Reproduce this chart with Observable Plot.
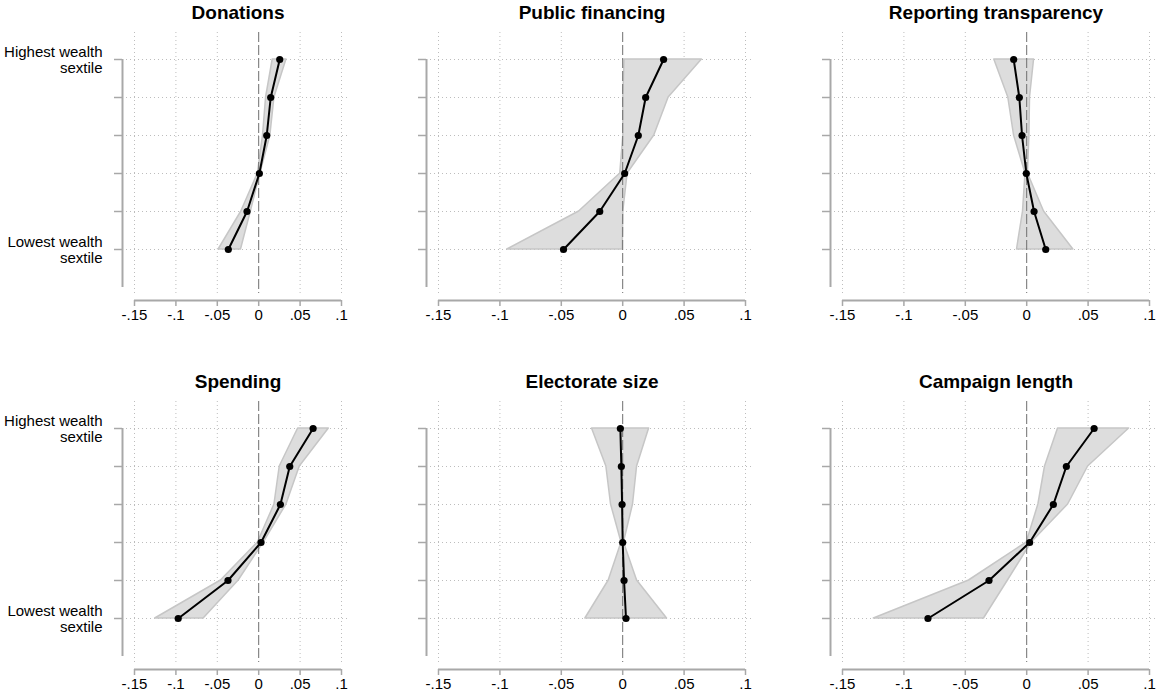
<!DOCTYPE html>
<html>
<head>
<meta charset="utf-8">
<script src="https://cdn.jsdelivr.net/npm/d3@7"></script>
<script src="https://cdn.jsdelivr.net/npm/@observablehq/plot@0.6"></script>
<style>
  html, body { margin: 0; padding: 0; background: #fff; }
  #chart { position: relative; width: 1156px; height: 699px; overflow: hidden;
           font-family: "Liberation Sans", Arial, sans-serif; }
  #chart svg { position: absolute; }
</style>
</head>
<body>
<div id="chart"></div>
<script>
// Wealth sextiles, lowest (1) to highest (6)
const sextiles = [1, 2, 3, 4, 5, 6];
const xTicks = [-0.15, -0.1, -0.05, 0, 0.05, 0.1];
const topLabel = "Highest wealth\nsextile";
const bottomLabel = "Lowest wealth\nsextile";

const titles = ["Donations", "Public financing", "Reporting transparency",
                "Spending", "Electorate size", "Campaign length"];

// Point estimates and confidence bounds, ordered lowest to highest sextile
const donationsEst = [-0.0367, -0.0141, 0.0008, 0.0097, 0.0145, 0.0254];
const donationsLo  = [-0.0484, -0.0210, -0.0010, 0.0052, 0.0089, 0.0169];
const donationsHi  = [-0.0214, -0.0095, 0.0020, 0.0141, 0.0190, 0.0335];

const publicEst = [-0.0482, -0.0187, 0.0016, 0.0127, 0.0187, 0.0333];
const publicLo  = [-0.0940, -0.0355, -0.0020, 0.0005, 0.0005, 0.0015];
const publicHi  = [0.0000, 0.0005, 0.0040, 0.0257, 0.0374, 0.0645];

const reportingEst = [0.0155, 0.0060, -0.0003, -0.0038, -0.0060, -0.0106];
const reportingLo  = [-0.0079, -0.0030, -0.0010, -0.0103, -0.0150, -0.0264];
const reportingHi  = [0.0380, 0.0141, 0.0010, 0.0022, 0.0027, 0.0060];

const spendingEst = [-0.0972, -0.0371, 0.0028, 0.0262, 0.0375, 0.0657];
const spendingLo  = [-0.1250, -0.0456, -0.0010, 0.0190, 0.0254, 0.0476];
const spendingHi  = [-0.0665, -0.0242, 0.0060, 0.0335, 0.0496, 0.0847];

const electorateEst = [0.0027, 0.0011, 0.0000, -0.0005, -0.0011, -0.0019];
const electorateLo  = [-0.0304, -0.0114, -0.0010, -0.0095, -0.0133, -0.0250];
const electorateHi  = [0.0361, 0.0117, 0.0010, 0.0084, 0.0117, 0.0215];

const campaignEst = [-0.0804, -0.0307, 0.0024, 0.0217, 0.0323, 0.0549];
const campaignLo  = [-0.1245, -0.0470, 0.0000, 0.0095, 0.0149, 0.0255];
const campaignHi  = [-0.0348, -0.0153, 0.0040, 0.0337, 0.0500, 0.0834];

const series = [
  [donationsEst, donationsLo, donationsHi],
  [publicEst, publicLo, publicHi],
  [reportingEst, reportingLo, reportingHi],
  [spendingEst, spendingLo, spendingHi],
  [electorateEst, electorateLo, electorateHi],
  [campaignEst, campaignLo, campaignHi]
];

// Panel geometry: three columns, two rows
const columns = [
  {left: 0,   width: 370, marginLeft: 122, marginRight: 22, insetRight: 7},
  {left: 370, width: 400, marginLeft: 56,  marginRight: 17, insetRight: 8},
  {left: 770, width: 386, marginLeft: 60,  marginRight: 0,  insetRight: 7}
];
const rowTops = [0, 369];
const insetLeft = 12;

const fmt = d => d === 0 ? "0" : (d < 0 ? "-" : "") + String(Math.abs(d)).replace(/^0/, "");

const axisGray = "#a8a8a8";
const gridGray = "#bdbdbd";
const chart = document.getElementById("chart");

series.forEach(([est, lo, hi], i) => {
  const col = columns[i % 3];
  const top = rowTops[Math.floor(i / 3)];
  const rows = sextiles.map((s, k) => ({sextile: s, est: est[k], lo: lo[k], hi: hi[k]}));
  const showLabels = i % 3 === 0;

  const svg = Plot.plot({
    width: col.width,
    height: 330,
    marginLeft: col.marginLeft,
    marginRight: col.marginRight,
    marginTop: 32,
    marginBottom: 37,
    insetLeft,
    insetRight: col.insetRight,
    insetTop: 27,
    insetBottom: 6,
    x: {domain: [-0.15, 0.1], axis: null, label: null},
    y: {domain: [0, 6], axis: null, label: null},
    marks: [
      Plot.gridX(xTicks.filter(d => d !== 0), {stroke: gridGray, strokeOpacity: 1, strokeDasharray: "1,3"}),
      Plot.gridY(sextiles, {stroke: gridGray, strokeOpacity: 1, strokeDasharray: "1,3"}),
      Plot.areaX(rows, {y: "sextile", x1: "lo", x2: "hi", fill: "#dddddd", stroke: "#c6c6c6", strokeWidth: 1.5}),
      Plot.ruleX([0], {stroke: "#6e6e6e", strokeWidth: 1, strokeDasharray: "10,3"}),
      Plot.line(rows, {x: "est", y: "sextile", stroke: "black", strokeWidth: 2}),
      Plot.dot(rows, {x: "est", y: "sextile", r: 3.6, fill: "black"}),
      // y axis line, spanning the full sextile range
      Plot.ruleX([-0.15], {y1: 0, y2: 6, dx: -insetLeft, stroke: axisGray, strokeWidth: 2}),
      Plot.axisY(sextiles, {
        label: null,
        tickSize: 8, tickPadding: 12, stroke: axisGray, strokeWidth: 1.5, fill: "black",
        lineHeight: 1.07,
        tickFormat: d => !showLabels ? "" : d === 6 ? topLabel : d === 1 ? bottomLabel : ""
      }),
      // x axis line below the plotting area
      Plot.ruleY([0], {x1: -0.15, x2: 0.1, dy: 13, stroke: axisGray, strokeWidth: 2}),
      Plot.axisX(xTicks, {
        label: null,
        tickSize: 6, tickPadding: 3, dy: 7, stroke: axisGray, strokeWidth: 1.5, fill: "black",
        tickFormat: fmt
      }),
      Plot.text([titles[i]], {
        text: d => d, frameAnchor: "top", dy: -19.3, dx: (insetLeft - col.insetRight) / 2,
        lineAnchor: "middle", fontSize: 19, fontWeight: "bold", fill: "black"
      })
    ]
  });
  svg.style.left = col.left + "px";
  svg.style.top = top + "px";
  svg.style.overflow = "visible";
  svg.style.maxWidth = "none";
  svg.style.background = "none";
  svg.style.fontSize = "15px";
  svg.style.fontFamily = '"Liberation Sans", Arial, sans-serif';
  chart.appendChild(svg);
});
</script>
</body>
</html>
